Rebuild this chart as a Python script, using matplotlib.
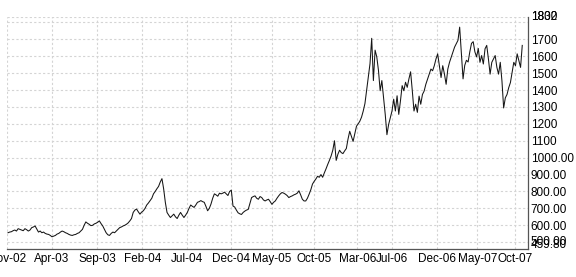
import matplotlib
matplotlib.use("Agg")
import matplotlib.pyplot as plt
from matplotlib.transforms import ScaledTranslation
import numpy as np

plt.rcParams['font.family'] = ['Liberation Sans', 'DejaVu Sans']

# Price series (sampled evenly along the trading axis), grouped by period
p_nov02 = [556, 560, 562, 568, 572, 566, 580, 576, 572, 568, 580, 574, 566, 572,
           586, 590, 596, 578, 560, 566, 556, 560, 552, 548, 546, 540, 532]
p_apr03 = [536, 540, 548, 552, 560, 566, 562, 556, 552, 546, 542, 540, 544, 546,
           552, 556, 566, 576, 600, 620, 612, 606, 598, 600, 608, 612, 618]
p_sep03 = [626, 610, 596, 576, 556, 544, 540, 552, 560, 556, 566, 576, 586, 590,
           596, 600, 606, 614, 626, 640, 676, 690, 696, 680, 666, 678]
p_feb04 = [686, 700, 720, 732, 746, 760, 786, 800, 816, 830, 856, 876, 816, 736,
           676, 660, 646, 656, 666, 650, 640, 660, 676, 660, 646, 660]
p_jul04 = [676, 700, 720, 712, 706, 720, 736, 740, 746, 740, 736, 712, 686, 700,
           726, 760, 786, 780, 772, 790, 786, 790, 796, 786, 776, 800, 808]
p_dec04 = [714, 708, 690, 674, 668, 664, 676, 684, 690, 694, 730, 764, 770, 774,
           760, 754, 770, 764, 750, 744, 750, 754, 740, 724]
p_may05 = [736, 744, 760, 774, 786, 794, 790, 784, 776, 764, 770, 774, 780, 784,
           790, 804, 780, 754, 744, 744, 760, 784, 810, 844, 860]
p_oct05 = [874, 890, 884, 900, 884, 910, 934, 960, 984, 1010, 1044, 1100, 984, 1020,
           1044, 1030, 1024, 1040, 1054, 1110, 1156, 1126, 1096, 1140, 1186]
p_mar06 = [1200, 1216, 1240, 1276, 1320, 1400, 1476, 1556, 1706, 1456, 1636, 1596,
           1516, 1396, 1456, 1356, 1256, 1136, 1196, 1236, 1276]
p_jul06 = [1346, 1276, 1366, 1256, 1336, 1426, 1396, 1446, 1416, 1466, 1508, 1396,
           1276, 1316, 1268, 1364, 1316, 1374, 1394, 1434, 1464, 1494, 1524, 1514,
           1544, 1584]
p_dec06 = [1614, 1544, 1474, 1544, 1494, 1434, 1524, 1564, 1594, 1624, 1654, 1674,
           1694, 1772, 1620, 1466, 1546, 1576, 1566, 1626, 1676, 1686, 1626, 1596]
p_may07 = [1646, 1564, 1604, 1554, 1644, 1664, 1584, 1494, 1564, 1584, 1604, 1534,
           1494, 1564, 1454, 1294, 1354, 1374, 1414, 1444, 1504, 1564, 1544, 1614,
           1574, 1534, 1664]

prices = (p_nov02 + p_apr03 + p_sep03 + p_feb04 + p_jul04 + p_dec04 + p_may05
          + p_oct05 + p_mar06 + p_jul06 + p_dec06 + p_may07)

x_labels = ["Nov-02", "Apr-03", "Sep-03", "Feb-04", "Jul-04", "Dec-04", "May-05",
            "Oct-05", "Mar-06", "Jul-06", "Dec-06", "May-07", "Oct-07"]
x_label_pos = [-0.6, 26, 52.6, 79.4, 105.6, 132, 156, 181, 206.6, 227, 253.4,
               277.4, 300]

y_ticks = [1832, 1800, 1700, 1600, 1500, 1400, 1300, 1200, 1100, 1000, 900, 800,
           700, 600, 500, 459.8]
y_labels = ["1832", "1800", "1700", "1600", "1500", "1400", "1300", "1200", "1100",
            "1000.00", "900.00", "800.00", "700.00", "600.00", "500.00", "459.80"]

fig = plt.figure(figsize=(5.76, 2.77), dpi=100)
ax = fig.add_axes([7 / 576, 28 / 277, 521 / 576, 232 / 277])

x = np.arange(len(prices))
ax.plot(x, prices, color='#151515', lw=0.75)

ax.set_xlim(-0.6, 307.4)
ax.set_ylim(459.8, 1832)

ax.set_xticks(x_label_pos)
ax.set_xticklabels(x_labels, fontsize=8.5)
ax.yaxis.tick_right()
ax.set_yticks(y_ticks)
ax.set_yticklabels(y_labels, fontsize=8.5)
ax.tick_params(axis='both', length=0, colors='black')
ax.tick_params(axis='x', pad=3)
ax.tick_params(axis='y', pad=2)

shifts = {"1800": 7, "1832": 2, "459.80": 5, "500.00": 1.5}
for lab in ax.get_yticklabels():
    t = lab.get_text()
    if t in shifts:
        lab.set_transform(lab.get_transform()
                          + ScaledTranslation(0, shifts[t] / 100, fig.dpi_scale_trans))

ax.grid(True, color='#d4d4d4', linestyle=(0, (2, 2)), lw=0.8)
ax.set_axisbelow(True)

for s in ['left', 'top']:
    ax.spines[s].set_visible(False)
ax.spines['right'].set_color('#555555')
ax.spines['bottom'].set_color('#555555')
ax.spines['right'].set_linewidth(0.9)
ax.spines['bottom'].set_linewidth(0.9)

fig.savefig("out.png", dpi=100)
